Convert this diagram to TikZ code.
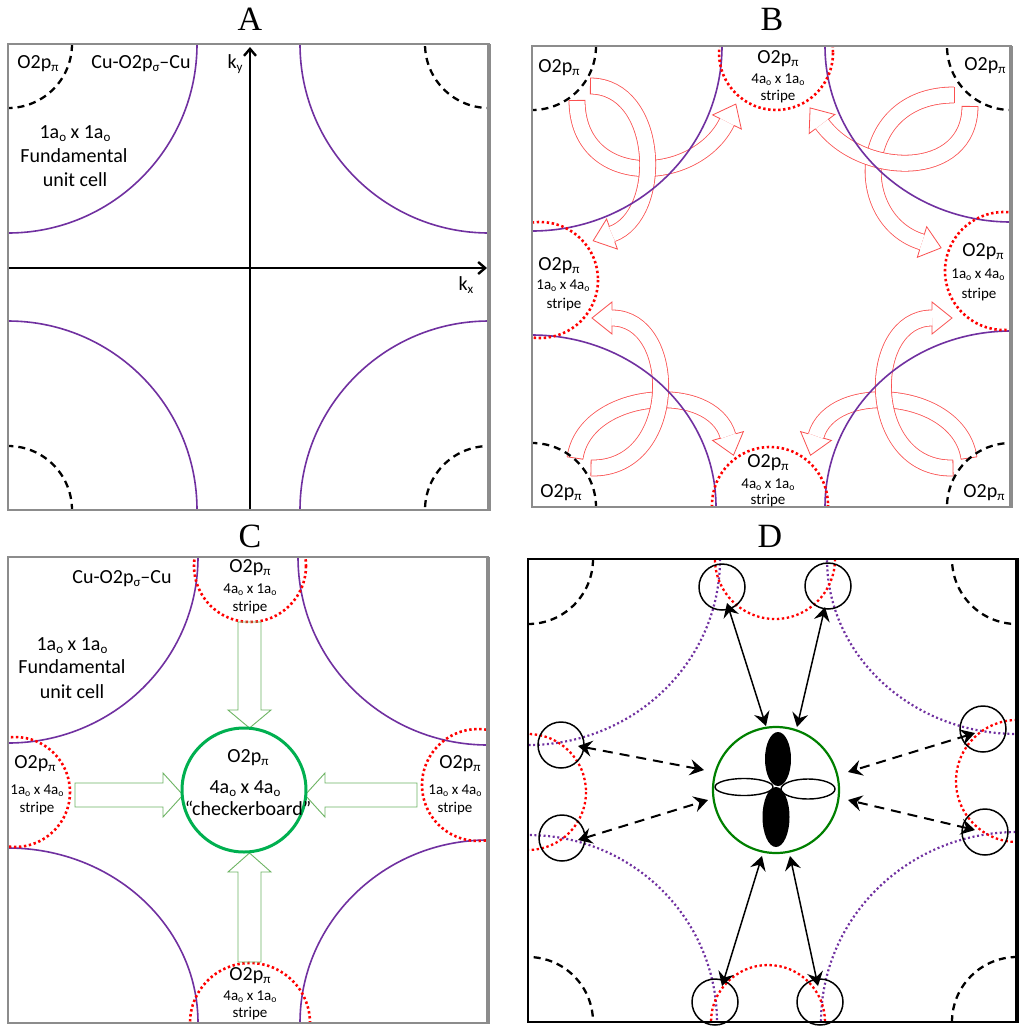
\documentclass[tikz,border=0pt]{standalone}
\usepackage{fontspec}
\setmainfont{Carlito}
\newfontfamily\titlefont{Liberation Serif}
\usetikzlibrary{arrows.meta,calc}
\definecolor{ppurple}{RGB}{112,48,160}
\definecolor{arrred}{RGB}{250,80,80}
\definecolor{cgreen}{RGB}{0,176,80}
\definecolor{agreen}{RGB}{110,180,100}
\definecolor{dgreen}{RGB}{0,128,0}
\definecolor{framegray}{RGB}{140,140,140}
\newcommand{\lowsub}[1]{\raisebox{-0.35ex}{\scalebox{0.65}{#1}}}
\newcommand{\ao}{a\lowsub{o}}
\newcommand{\opi}{O2p\lowsub{π}}
% hollow (outlined) arrow along a cubic curve
% #1 start, #2 c1, #3 c2, #4 end, #5 colour, #6 half band, #7 half head, #8 head length
\newcommand{\hollowarrow}[8]{%
  \draw[draw=#5,line width=0.8pt,double=white,double distance=2*#6pt-0.8pt] (#1) .. controls (#2) and (#3) .. (#4);
  \draw[draw=#5,line width=0.8pt] ($(#1)!#6pt!90:(#2)$) -- ($(#1)!#6pt!-90:(#2)$);
  \draw[draw=#5,line width=0.8pt,line join=miter] ($(#4)!#6pt!90:(#3)$) -- ($(#4)!#7pt!90:(#3)$) -- ($(#4)!-#8pt!(#3)$) -- ($(#4)!#7pt!-90:(#3)$) -- ($(#4)!#6pt!-90:(#3)$);
}
\begin{document}
\begin{tikzpicture}[x=1pt,y=-1pt,
  purp/.style={draw=ppurple,line width=1.6pt},
  cdash/.style={draw=black,line width=2.3pt,dash pattern=on 7pt off 5pt},
  rdot/.style={draw=red,line width=2.6pt,dash pattern=on 2.4pt off 2.6pt},
  pdot/.style={draw=ppurple,line width=2.2pt,dash pattern=on 2pt off 2.6pt},
  gframe/.style={draw=framegray,line width=1.5pt},
  garrow/.style={draw=agreen,line width=0.9pt,line join=miter},
  lab/.style={font=\fontsize{20}{23}\selectfont,inner sep=0pt,anchor=base},
  slab/.style={font=\fontsize{15}{18}\selectfont,inner sep=0pt,anchor=base},
  ttl/.style={font=\fontsize{34}{40}\titlefont,inner sep=0pt,anchor=base},
  kaxis/.style={line width=2.4pt,-{Straight Barb[length=7pt,width=12pt]}},
  sring/.style={draw,circle,line width=1.5pt,minimum size=46pt,inner sep=0pt},
  solidarr/.style={line width=1.5pt,{Stealth[length=14pt,width=16pt,inset=5pt]}-{Stealth[length=14pt,width=16pt,inset=5pt]}},
  dasharr/.style={solidarr,line width=2pt,dash pattern=on 10pt off 7pt}
]
\useasboundingbox (0,0) rectangle (1024,1029);
\fill[white] (0,0) rectangle (1024,1029);

% ================= Panel A =================
\node[ttl] (tA) at (250,30) {A};
\begin{scope}
\clip (8,44) rectangle (489,510);
\draw[purp] (8,44) circle[radius=189];
\draw[purp] (489,44) circle[radius=189];
\draw[purp] (8,510) circle[radius=189];
\draw[purp] (489,510) circle[radius=189];
\draw[cdash] (8,44) circle[radius=64];
\draw[cdash] (489,44) circle[radius=64];
\draw[cdash] (8,510) circle[radius=64];
\draw[cdash] (489,510) circle[radius=64];
\end{scope}
\coordinate (yb) at (250,510);
\coordinate (yt) at (250,47);
\coordinate (xl) at (8,268);
\coordinate (xr) at (487,268);
\draw[kaxis] (yb) -- (yt);
\draw[kaxis] (xl) -- (xr);
\draw[gframe] (8,44) rectangle (489,510);
\draw[draw=framegray,line width=3.5pt] (489,44) -- (489,511);
\node[lab] (a1) at (38,68) {\opi};
\node[lab] (a2) at (141,68) {Cu-O2p\lowsub{σ}–Cu};
\node[lab] (a3) at (235,68) {k\lowsub{y}};
\node[lab] (a4) at (75,138) {1\ao{} x 1\ao};
\node[lab] (a5) at (74,162) {Fundamental};
\node[lab] (a6) at (75,186) {unit cell};
\node[lab] (a7) at (466,290) {k\lowsub{x}};

% ================= Panel B =================
\node[ttl] (tB) at (772,30) {B};
\begin{scope}
\clip (532,46) rectangle (1011,507);
\hollowarrow{577,100}{577,190}{696,185}{727,122}{arrred}{8}{16}{20}
\hollowarrow{590,86}{660,86}{665,215}{612,234}{arrred}{8}{16}{20}
\hollowarrow{954,95}{855,95}{850,220}{922,242}{arrred}{8}{16}{20}
\hollowarrow{970,106}{970,180}{862,178}{822,124}{arrred}{8}{16}{20}
\hollowarrow{575,458}{585,390}{712,380}{728,436}{arrred}{8}{16}{20}
\hollowarrow{591,468}{680,470}{680,318}{612,318}{arrred}{8}{16}{20}
\hollowarrow{969,458}{959,390}{832,380}{816,436}{arrred}{8}{16}{20}
\hollowarrow{953,468}{864,470}{864,318}{932,318}{arrred}{8}{16}{20}
\draw[purp] (532,46) ellipse[x radius=190,y radius=185];
\draw[purp] (1011,46) ellipse[x radius=186,y radius=176];
\draw[purp] (532,507) ellipse[x radius=184,y radius=172];
\draw[purp] (1011,507) ellipse[x radius=186,y radius=176];
\draw[rdot] (776,53) circle[radius=57];
\draw[rdot] (540,280) circle[radius=58];
\draw[rdot] (1004,271) circle[radius=59];
\draw[rdot] (770,505) circle[radius=58];
\draw[cdash] (532,46) circle[radius=64];
\draw[cdash] (1011,46) circle[radius=64];
\draw[cdash] (532,507) circle[radius=64];
\draw[cdash] (1011,507) circle[radius=64];
\end{scope}
\draw[gframe] (532,46) rectangle (1011,507);
\draw[draw=framegray,line width=3.5pt] (1011,46) -- (1011,508);
\node[lab] (b1) at (559,72) {\opi};
\node[lab] (b2) at (778,63) {\opi};
\node[slab] (b3) at (778,83) {4\ao{} x 1\ao};
\node[slab] (b4) at (778,100) {stripe};
\node[lab] (b5) at (985,70) {\opi};
\node[lab] (b6) at (559,270) {\opi};
\node[slab] (b7) at (563,289) {1\ao{} x 4\ao};
\node[slab] (b8) at (564,308) {stripe};
\node[lab] (b9) at (983,256) {\opi};
\node[slab] (b10) at (978,278) {1\ao{} x 4\ao};
\node[slab] (b11) at (979,298) {stripe};
\node[lab] (b12) at (768,467) {\opi};
\node[slab] (b13) at (768,488) {4\ao{} x 1\ao};
\node[slab] (b14) at (768,504) {stripe};
\node[lab] (b15) at (561,497) {\opi};
\node[lab] (b16) at (984,497) {\opi};

% ================= Panel C =================
\node[ttl] (tC) at (250,547) {C};
\begin{scope}
\clip (8,557) rectangle (488,1023);
\draw[purp] (8,557) ellipse[x radius=190,y radius=186];
\draw[purp] (488,557) ellipse[x radius=190,y radius=188];
\draw[purp] (8,1023) ellipse[x radius=190,y radius=175];
\draw[purp] (488,1023) ellipse[x radius=188,y radius=183];
\draw[rdot] (250,566) circle[radius=56];
\draw[rdot] (15,792) circle[radius=55];
\draw[rdot] (478,785) circle[radius=56];
\draw[rdot] (250,1023) circle[radius=60];
\end{scope}
% green hollow block arrows
\draw[garrow] (238,622) -- (238,710) -- (228,710) -- (249.5,728) -- (271,710) -- (261,710) -- (261,622) -- cycle;
\draw[garrow] (238,962) -- (238,872) -- (228,872) -- (249.5,853) -- (271,872) -- (261,872) -- (261,962) -- cycle;
\draw[garrow] (75,783) -- (163,783) -- (163,773) -- (183,795) -- (163,817) -- (163,807) -- (75,807) -- cycle;
\draw[garrow] (417,783) -- (325,783) -- (325,773) -- (305,795) -- (325,817) -- (325,807) -- (417,807) -- cycle;
\node[draw=cgreen,circle,line width=3pt,minimum size=124pt,inner sep=0pt] (cg) at (244,790) {};
\draw[gframe] (8,557) rectangle (488,1023);
\draw[draw=framegray,line width=3.5pt] (488,557) -- (488,1024);
\node[lab] (c1) at (122,583) {Cu-O2p\lowsub{σ}–Cu};
\node[lab] (c2) at (72,650) {1\ao{} x 1\ao};
\node[lab] (c3) at (72,673) {Fundamental};
\node[lab] (c4) at (72,698) {unit cell};
\node[lab] (c5) at (250,572) {\opi};
\node[slab] (c6) at (250,593) {4\ao{} x 1\ao};
\node[slab] (c7) at (250,611) {stripe};
\node[lab] (c8) at (35,768) {\opi};
\node[slab] (c9) at (37,794) {1\ao{} x 4\ao};
\node[slab] (c10) at (37,812) {stripe};
\node[lab] (c11) at (460,768) {\opi};
\node[slab] (c12) at (455,794) {1\ao{} x 4\ao};
\node[slab] (c13) at (455,812) {stripe};
\node[lab] (c14) at (248,762) {\opi};
\node[lab] (c15) at (245,793) {4\ao{} x 4\ao};
\node[lab] (c16) at (248,815) {“checkerboard”};
\node[lab] (c17) at (250,980) {\opi};
\node[slab] (c18) at (250,1000) {4\ao{} x 1\ao};
\node[slab] (c19) at (250,1017) {stripe};

% ================= Panel D =================
\node[ttl] (tD) at (770,547) {D};
\begin{scope}
\clip (528,559) rectangle (1017,1022);
\draw[pdot] (528,559) ellipse[x radius=192,y radius=186];
\draw[pdot] (1017,559) ellipse[x radius=190,y radius=175];
\draw[pdot] (528,1022) ellipse[x radius=189,y radius=187];
\draw[pdot] (1017,1022) ellipse[x radius=196,y radius=190];
\draw[rdot,line width=2.3pt] (775,559) circle[radius=60];
\draw[rdot,line width=2.3pt] (528,792) circle[radius=58];
\draw[rdot,line width=2.3pt] (1017,781) circle[radius=61];
\draw[rdot,line width=2.3pt] (768,1022) circle[radius=57];
\draw[cdash] (528,559) circle[radius=65];
\draw[cdash] (1017,559) circle[radius=65];
\draw[cdash] (528,1022) circle[radius=65];
\draw[cdash] (1017,1022) circle[radius=65];
\end{scope}
\node[sring] (s1) at (722,587) {};
\node[sring] (s2) at (828,586) {};
\node[sring] (s3) at (561,745) {};
\node[sring] (s4) at (562,838) {};
\node[sring] (s5) at (983,729) {};
\node[sring] (s6) at (985,832) {};
\node[sring] (s7) at (715,1002) {};
\node[sring] (s8) at (820,1002) {};
\node[draw=dgreen,circle,line width=2.2pt,minimum size=126pt,inner sep=0pt] (dg) at (776,790) {};
% orbital lobes
\draw[line width=1.4pt,fill=white] (744,787) ellipse[x radius=29,y radius=8.5];
\draw[line width=1.4pt,fill=white] (808,789) ellipse[x radius=27,y radius=10];
\fill (778,759) ellipse[x radius=13,y radius=27];
\fill (776,817) ellipse[x radius=13.5,y radius=30];
% arrow ends
\coordinate (e1a) at (727,603); \coordinate (e1b) at (766,726);
\coordinate (e2a) at (825,607); \coordinate (e2b) at (797,727);
\coordinate (e3a) at (578,746); \coordinate (e3b) at (704,770);
\coordinate (e4a) at (578,840); \coordinate (e4b) at (708,800);
\coordinate (e5a) at (975,733); \coordinate (e5b) at (848,772);
\coordinate (e6a) at (975,830); \coordinate (e6b) at (848,800);
\coordinate (e7a) at (722,986); \coordinate (e7b) at (762,856);
\coordinate (e8a) at (818,986); \coordinate (e8b) at (790,856);
\draw[solidarr] (e1a) -- (e1b);
\draw[solidarr] (e2a) -- (e2b);
\draw[dasharr] (e3a) -- (e3b);
\draw[dasharr] (e4a) -- (e4b);
\draw[dasharr] (e5a) -- (e5b);
\draw[dasharr] (e6a) -- (e6b);
\draw[solidarr] (e7a) -- (e7b);
\draw[solidarr] (e8a) -- (e8b);
\draw[line width=1.6pt] (528,559) rectangle (1017,1022);
\draw[line width=4pt] (1017,558) -- (1017,1023);
\end{tikzpicture}
\end{document}
